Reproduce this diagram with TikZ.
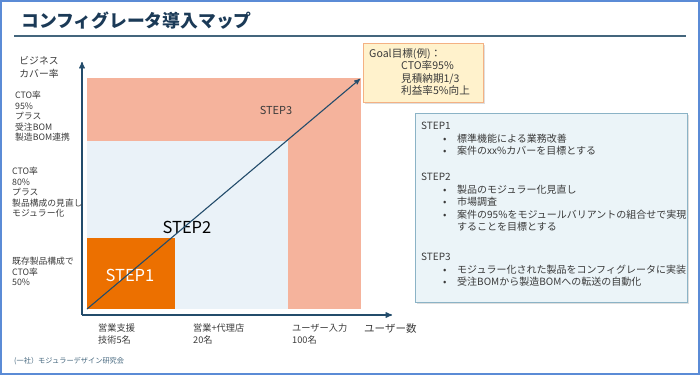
\documentclass[tikz,border=0pt]{standalone}
\usepackage{fontspec}
\setmainfont{Noto Sans CJK JP}
\usepackage{xcolor}
\definecolor{colorFrame}{HTML}{5B8BD6}
\definecolor{colorTitle}{HTML}{1B3A57}
\definecolor{colorRule}{HTML}{44667D}
\definecolor{colorAxis}{HTML}{234C6B}
\definecolor{colorText}{HTML}{3A3A3A}
\definecolor{colorStepOne}{HTML}{EC7000}
\definecolor{colorStepTwo}{HTML}{EAF2F8}
\definecolor{colorStepThree}{HTML}{F5B39C}
\definecolor{colorGoalFill}{HTML}{FFF2CC}
\definecolor{colorGoalLine}{HTML}{F4B183}
\definecolor{colorNoteFill}{HTML}{EBF4F8}
\definecolor{colorNoteLine}{HTML}{8BB3C6}
\usepackage{tikz}
\usetikzlibrary{arrows, positioning, shadows}
\tikzset{
  axislabel/.style={anchor=north west, align=left, font=\fontsize{8.8}{10.5}\selectfont},
  userlabel/.style={anchor=north west, align=left, font=\fontsize{9.2}{11.5}\selectfont},
  boxshadow/.style={drop shadow={opacity=0.25, shadow xshift=1.5pt, shadow yshift=-1.5pt}},
}
\newcommand{\stepitem}[1]{\hspace*{22pt}\makebox[14pt][l]{•}#1}

\begin{document}
\begin{tikzpicture}[x=1pt, y=-1pt, >=stealth', every node/.style={inner sep=0pt, text=colorText}]
\useasboundingbox (0,0) rectangle (700,375);
\draw[colorFrame, line width=2pt] (1,1) rectangle (699,374);

% title
\node[anchor=west, text=colorTitle, font=\fontsize{17.8}{20}\selectfont\bfseries] (title) at (21,21) {コンフィグレータ導入マップ};
\coordinate (ruleL) at (14,36);
\coordinate (ruleR) at (686,36);
\draw[colorRule, line width=2pt] (ruleL) -- (ruleR);

% areas of the map
\coordinate (o) at (87,309);
\coordinate (g) at (360,79);
\fill[colorStepThree] (87,78) rectangle (361,309);
\fill[colorStepTwo] (87,141) rectangle (288,309);
\fill[colorStepOne] (87,238) rectangle (175,309);
\node[font=\fontsize{11}{13}\selectfont] (s3) at (276,110) {STEP3};
\node[font=\fontsize{16.5}{19}\selectfont, text=black] (s2) at (187,227) {STEP2};
\node[font=\fontsize{16.5}{19}\selectfont, text=white] (s1) at (130,275) {STEP1};

% axes
\coordinate (ax) at (82,315);
\coordinate (ytop) at (82,62);
\coordinate (xend) at (392,315);
\draw[->, colorAxis, line width=1.3pt] (ax) -- (ytop);
\draw[->, colorAxis, line width=1.3pt] (ax) -- (xend);
\draw[->, colorAxis, line width=1.1pt] (o) -- (g);

% y labels
\node[anchor=north, align=center, font=\fontsize{9.8}{13}\selectfont] (ylab) at (39,56) {ビジネス\\カバー率};
\node[axislabel] (yA) at (15,91) {CTO率\\95\%\\プラス\\受注BOM\\製造BOM連携};
\node[axislabel] (yB) at (12,167) {CTO率\\80\%\\プラス\\製品構成の見直し\\モジュラー化};
\node[axislabel] (yC) at (12,257) {既存製品構成で\\CTO率\\50\%};

% x labels
\node[userlabel] (xA) at (98,324) {営業支援\\技術5名};
\node[userlabel] (xB) at (193,324) {営業+代理店\\20名};
\node[userlabel] (xC) at (292,324) {ユーザー入力\\100名};
\node[anchor=north west, font=\fontsize{10.5}{12}\selectfont] (xlab) at (364,323) {ユーザー数};

% goal
\node[anchor=north west, draw=colorGoalLine, line width=1pt, fill=colorGoalFill, boxshadow, minimum width=120pt, minimum height=59pt] (goal) at (363,43) {};
\node[anchor=north west, align=left, font=\fontsize{10.6}{12.2}\selectfont, below right=5.5pt and 6pt of goal.north west] (goaltext) {Goal目標(例)：\\\hspace*{32pt}CTO率95\%\\\hspace*{32pt}見積納期1/3\\\hspace*{32pt}利益率5\%向上};

% steps
\node[anchor=north west, draw=colorNoteLine, line width=1pt, fill=colorNoteFill, boxshadow, minimum width=272pt, minimum height=189pt] (steps) at (415,113) {};
\node[anchor=north west, align=left, font=\fontsize{10}{12.6}\selectfont, below right=9pt and 6pt of steps.north west] (steptext) {STEP1\\
\stepitem{標準機能による業務改善}\\
\stepitem{案件のxx\%カバーを目標とする}\\[13pt]
STEP2\\
\stepitem{製品のモジュラー化見直し}\\
\stepitem{市場調査}\\
\stepitem{案件の95\%をモジュールバリアントの組合せで実現}\\
\hspace*{36pt}することを目標とする\\[17pt]
STEP3\\
\stepitem{モジュラー化された製品をコンフィグレータに実装}\\
\stepitem{受注BOMから製造BOMへの転送の自動化}};

% footer
\node[anchor=west, text=colorRule, font=\fontsize{7.2}{8}\selectfont] (footer) at (14,361) {(一社）モジュラーデザイン研究会};
\end{tikzpicture}
\end{document}
